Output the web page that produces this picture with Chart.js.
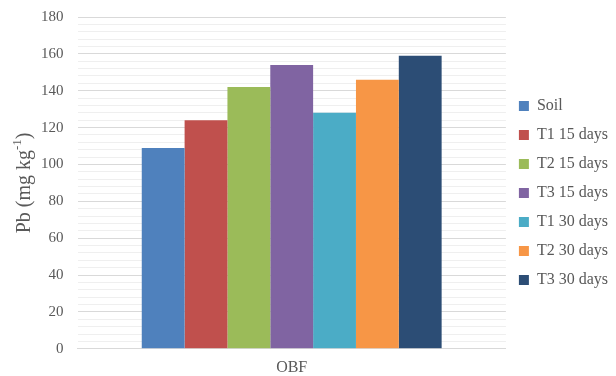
<!DOCTYPE html>
<html>
<head>
<meta charset="utf-8">
<style>
  html, body { margin: 0; padding: 0; background: #ffffff; }
  #wrap { width: 616px; height: 376px; position: relative; }
</style>
<script src="https://cdn.jsdelivr.net/npm/chart.js@4/dist/chart.umd.min.js"></script>
</head>
<body>
<div id="wrap"><canvas id="chart" width="616" height="376"></canvas></div>
<script>
// Pb concentration per treatment
const categories = ['OBF'];
const seriesNames = ['Soil', 'T1 15 days', 'T2 15 days', 'T3 15 days', 'T1 30 days', 'T2 30 days', 'T3 30 days'];
const seriesValues = [109, 124, 142, 154, 128, 146, 159];
const seriesColors = ['#4F81BD', '#C0504D', '#9BBB59', '#8064A2', '#4BACC6', '#F79646', '#2C4D75'];
const yTickMax = 180;
const yTickStep = 20;
const yMinorStep = 4;

const FONT = "'Liberation Serif', 'Times New Roman', serif";
const TEXT = '#595959';

// y-axis title with a superscript exponent: "Pb (mg kg⁻¹)"
const yTitlePlugin = {
  id: 'yTitle',
  afterDraw(chart) {
    const ctx = chart.ctx;
    const area = chart.chartArea;
    const main1 = 'Pb (mg kg';
    const sup = '-1';
    const main2 = ')';
    const mainFont = '20px ' + FONT;
    const supFont = '13px ' + FONT;
    ctx.save();
    ctx.font = mainFont;
    const w1 = ctx.measureText(main1).width;
    const w3 = ctx.measureText(main2).width;
    ctx.font = supFont;
    const w2 = ctx.measureText(sup).width;
    const total = w1 + w2 + w3;
    ctx.translate(25, (area.top + area.bottom) / 2);
    ctx.rotate(-Math.PI / 2);
    ctx.fillStyle = TEXT;
    ctx.textBaseline = 'middle';
    ctx.textAlign = 'left';
    let x = -total / 2;
    ctx.font = mainFont;
    ctx.fillText(main1, x, 0);
    x += w1;
    ctx.font = supFont;
    ctx.fillText(sup, x, -7);
    x += w2;
    ctx.font = mainFont;
    ctx.fillText(main2, x, 0);
    ctx.restore();
  }
};

const datasets = seriesNames.map((name, i) => ({
  label: name,
  data: [seriesValues[i]],
  backgroundColor: seriesColors[i],
  borderWidth: 0,
  categoryPercentage: 0.7,
  barPercentage: 1.0
}));

new Chart(document.getElementById('chart'), {
  type: 'bar',
  data: { labels: categories, datasets },
  plugins: [yTitlePlugin],
  options: {
    responsive: false,
    animation: false,
    devicePixelRatio: 1,
    layout: { padding: { left: 27, top: 0, right: -2, bottom: -10 } },
    plugins: {
      tooltip: { enabled: false },
      legend: {
        position: 'right',
        align: 'center',
        labels: {
          boxWidth: 10,
          boxHeight: 10,
          padding: 13,
          color: TEXT,
          font: { family: FONT, size: 16 }
        }
      }
    },
    scales: {
      x: {
        grid: { display: false, drawTicks: false },
        border: { display: true, color: '#d9d9d9', width: 1 },
        ticks: { color: TEXT, font: { family: FONT, size: 16 }, padding: 9 }
      },
      y: {
        min: 0,
        max: yTickMax,
        border: { display: false },
        // keep only the room the top label needs, not the tick padding
        afterFit: (scale) => { scale.paddingTop = 17; },
        grid: {
          drawTicks: false,
          color: (c) => (c.tick && c.tick.value % yTickStep === 0) ? '#d9d9d9' : '#efefef',
          lineWidth: 1
        },
        ticks: {
          stepSize: yMinorStep,
          autoSkip: false,
          color: TEXT,
          font: { family: FONT, size: 15 },
          padding: 14,
          callback: (v) => (v % yTickStep === 0 ? String(v) : '')
        }
      }
    }
  }
});
</script>
</body>
</html>
